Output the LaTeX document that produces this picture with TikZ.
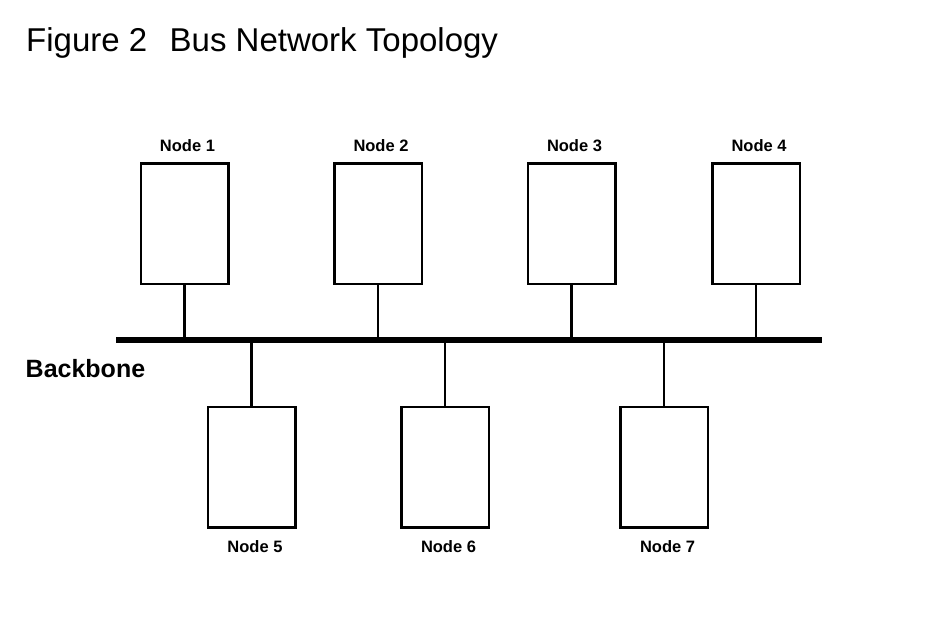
\documentclass[tikz,border=0pt]{standalone}
\usepackage{fontspec}
\setmainfont{Liberation Sans}
\begin{document}
\begin{tikzpicture}[
				x=1pt,y=-1pt,line join = miter,
				hcn/.style={rectangle,draw = black,line width=2.5pt,fill = white, minimum width=87.5pt, minimum height=120.5pt,inner sep=0pt},
				nhan/.style={font=\bfseries\fontsize{16.5}{18}\selectfont,inner sep=0pt,anchor=base},
				ket/.style={line width=2.7pt},
				truc/.style={line width=6pt}]
				\useasboundingbox (0,0) rectangle (925,619);
				\node at (26,51) (nodeTitle) [anchor=base west,inner sep=0pt,font=\fontsize{33}{39}\selectfont] {Figure 2\hspace{0.68em}Bus Network Topology};
				\node at (25.5,377) (nodeBB) [anchor=base west,inner sep=0pt,font=\bfseries\fontsize{25}{30}\selectfont] {Backbone};
				\coordinate (busL) at (116,340);
				\coordinate (busR) at (822,340);
				\node at (184.5,223.5) (nodeN1) [hcn] {};
				\node at (378,223.5) (nodeN2) [hcn] {};
				\node at (571.5,223.5) (nodeN3) [hcn] {};
				\node at (756,223.5) (nodeN4) [hcn] {};
				\node at (251.5,467) (nodeN5) [hcn] {};
				\node at (445,467) (nodeN6) [hcn] {};
				\node at (664,467) (nodeN7) [hcn] {};
				\node at (187.5,151) (labelN1) [nhan] {Node 1};
				\node at (381,151) (labelN2) [nhan] {Node 2};
				\node at (574.5,151) (labelN3) [nhan] {Node 3};
				\node at (759,151) (labelN4) [nhan] {Node 4};
				\node at (255,552.5) (labelN5) [nhan] {Node 5};
				\node at (448.5,552.5) (labelN6) [nhan] {Node 6};
				\node at (667.5,552.5) (labelN7) [nhan] {Node 7};
				\draw[truc] (busL) -- (busR);
				\draw[ket] (nodeN1.south) -- (nodeN1.south |- busL);
				\draw[ket] (nodeN2.south) -- (nodeN2.south |- busL);
				\draw[ket] (nodeN3.south) -- (nodeN3.south |- busL);
				\draw[ket] (nodeN4.south) -- (nodeN4.south |- busL);
				\draw[ket] (nodeN5.north) -- (nodeN5.north |- busL);
				\draw[ket] (nodeN6.north) -- (nodeN6.north |- busL);
				\draw[ket] (nodeN7.north) -- (nodeN7.north |- busL);
			\end{tikzpicture}
\end{document}
